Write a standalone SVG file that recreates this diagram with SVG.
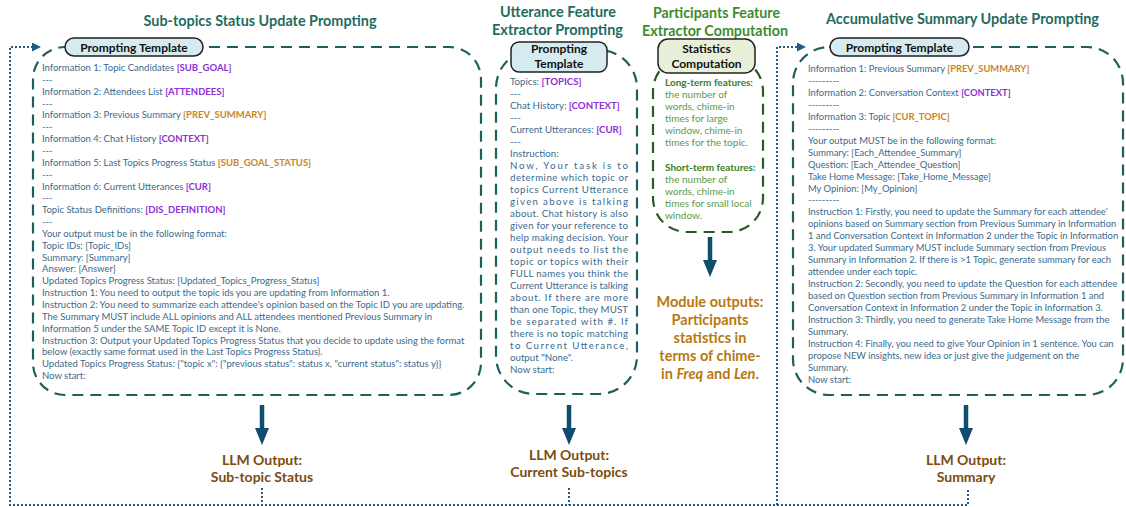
<svg xmlns="http://www.w3.org/2000/svg" width="1126" height="507" viewBox="0 0 1126 507">
<style>
text{font-family:Lato,"Liberation Sans",sans-serif}
.t{font-size:9.5px;fill:#3b6a8c}
.tr{font-size:9.4px;fill:#3b6a8c}
.tm{font-size:9.7px;fill:#3b6a8c}
.p{fill:#8e2fd8;font-weight:bold}
.o{fill:#c8861e;font-weight:bold}
.ttl{font-weight:bold;font-size:15px;fill:#1f6b5f;text-anchor:middle}
.gttl{font-weight:bold;font-size:15px;fill:#3d8c2c;text-anchor:middle}
.pill{fill:#d6ebf0;stroke:#222;stroke-width:1.5}
.gpill{fill:#e8f0da;stroke:#222;stroke-width:1.5}
.pt{font-weight:bold;font-size:12px;fill:#111;text-anchor:middle}
.pnl{fill:none;stroke:#1d5f5f;stroke-width:2.2;stroke-dasharray:11 7}
.gpnl{fill:none;stroke:#2b5a26;stroke-width:2.2;stroke-dasharray:11 7}
.dot{fill:none;stroke:#1f5d86;stroke-width:2;stroke-dasharray:2 2}
.arr{stroke:#0e4d6e;stroke-width:4.5;fill:none}
.out{font-weight:bold;font-size:14px;fill:#7b4c10;text-anchor:middle}
.mod{font-weight:bold;font-size:14.5px;fill:#b8780f;text-anchor:middle}
.gh{font-size:10px;font-weight:bold;fill:#37802b}
.gb{font-size:10px;fill:#5a9b46}
</style>
<defs>
<marker id="big" viewBox="0 0 17 14" refX="0" refY="7" markerWidth="17" markerHeight="14" markerUnits="userSpaceOnUse" orient="auto"><path d="M0,0 L17,7 L0,14 z" fill="#0e4d6e"/></marker>
<marker id="sm" viewBox="0 0 9 9" refX="0" refY="4.5" markerWidth="9" markerHeight="9" markerUnits="userSpaceOnUse" orient="auto"><path d="M0,0 L9,4.5 L0,9 z" fill="#1f5d86"/></marker>
</defs>
<rect width="1126" height="507" fill="#fff"/>

<!-- titles -->
<text class="ttl" x="260" y="26" textLength="233" lengthAdjust="spacingAndGlyphs">Sub-topics Status Update Prompting</text>
<text class="ttl" x="558" y="17" textLength="116" lengthAdjust="spacingAndGlyphs">Utterance Feature</text>
<text class="ttl" x="557.5" y="35" textLength="131" lengthAdjust="spacingAndGlyphs">Extractor Prompting</text>
<text class="gttl" x="716.5" y="18" textLength="127" lengthAdjust="spacingAndGlyphs">Participants Feature</text>
<text class="gttl" x="715" y="36" textLength="146" lengthAdjust="spacingAndGlyphs">Extractor Computation</text>
<text class="ttl" x="962.5" y="24" textLength="273" lengthAdjust="spacingAndGlyphs">Accumulative Summary Update Prompting</text>

<!-- connectors -->
<g id="connectors">
<path class="dot" d="M262,488 V505"/>
<path class="dot" d="M569,488 V505"/>
<path class="dot" d="M968,490 V505 H10 V47 H32" marker-end="url(#sm)"/>
<path class="dot" d="M777,505 V47 H797" marker-end="url(#sm)"/>
<line class="arr" x1="262" y1="405" x2="262" y2="428" marker-end="url(#big)"/>
<line class="arr" x1="569" y1="405" x2="569" y2="428" marker-end="url(#big)"/>
<line class="arr" x1="710" y1="237" x2="710" y2="260" marker-end="url(#big)"/>
<line class="arr" x1="966" y1="405" x2="966" y2="428" marker-end="url(#big)"/>
</g>

<!-- left panel -->
<g id="subtopic-prompt">
<rect class="pnl" x="33" y="47" width="448" height="348" rx="32"/>
<rect class="pill" x="65" y="38" width="138" height="18" rx="9"/>
<text class="pt" x="134" y="51.5" font-size="11.5">Prompting Template</text>
<text class="t" x="42" y="71">Information 1: Topic Candidates <tspan class="p">[SUB_GOAL]</tspan></text>
<text class="t" x="42" y="82.85">---</text>
<text class="t" x="42" y="94.7">Information 2: Attendees List <tspan class="p">[ATTENDEES]</tspan></text>
<text class="t" x="42" y="106.55">---</text>
<text class="t" x="42" y="118.4">Information 3: Previous Summary <tspan class="o">[PREV_SUMMARY]</tspan></text>
<text class="t" x="42" y="130.25">---</text>
<text class="t" x="42" y="142.1">Information 4: Chat History <tspan class="p">[CONTEXT]</tspan></text>
<text class="t" x="42" y="153.95">---</text>
<text class="t" x="42" y="165.8">Information 5: Last Topics Progress Status <tspan class="o">[SUB_GOAL_STATUS]</tspan></text>
<text class="t" x="42" y="177.65">---</text>
<text class="t" x="42" y="189.5">Information 6: Current Utterances <tspan class="p">[CUR]</tspan></text>
<text class="t" x="42" y="201.35">---</text>
<text class="t" x="42" y="213.2">Topic Status Definitions: <tspan class="p">[DIS_DEFINITION]</tspan></text>
<text class="t" x="42" y="225.05">---</text>
<text class="t" x="42" y="236.9">Your output must be in the following format:</text>
<text class="t" x="42" y="248.75">Topic IDs: [Topic_IDs]</text>
<text class="t" x="42" y="260.6">Summary: [Summary]</text>
<text class="t" x="42" y="272.45">Answer: [Answer]</text>
<text class="t" x="42" y="284.3">Updated Topics Progress Status: [Updated_Topics_Progress_Status]</text>
<text class="t" x="42" y="296.15">Instruction 1: You need to output the topic ids you are updating from Information 1.</text>
<text class="t" x="42" y="308">Instruction 2: You need to summarize each attendee's opinion based on the Topic ID you are updating.</text>
<text class="t" x="42" y="319.85">The Summary MUST include ALL opinions and ALL attendees mentioned Previous Summary in</text>
<text class="t" x="42" y="331.7">Information 5 under the SAME Topic ID except it is None.</text>
<text class="t" x="42" y="343.55">Instruction 3: Output your Updated Topics Progress Status that you decide to update using the format</text>
<text class="t" x="42" y="355.4">below (exactly same format used in the Last Topics Progress Status).</text>
<text class="t" x="42" y="367.25">Updated Topics Progress Status: {"topic x": {"previous status": status x, "current status": status y}}</text>
<text class="t" x="42" y="379.1">Now start:</text>
</g>

<!-- middle panel -->
<g id="utterance-prompt">
<rect class="pnl" x="496" y="50" width="141" height="344" rx="38"/>
<rect class="pill" x="511" y="42" width="96" height="30" rx="8"/>
<text class="pt" x="559" y="53">Prompting</text>
<text class="pt" x="559" y="68">Template</text>
<text class="tm" x="510" y="85">Topics: <tspan class="p">[TOPICS]</tspan></text>
<text class="tm" x="510" y="97">---</text>
<text class="tm" x="510" y="109">Chat History: <tspan class="p">[CONTEXT]</tspan></text>
<text class="tm" x="510" y="121">---</text>
<text class="tm" x="510" y="133">Current Utterances: <tspan class="p">[CUR]</tspan></text>
<text class="tm" x="510" y="145">---</text>
<text class="tm" x="510" y="157">Instruction:</text>
<text class="tm" x="510" y="169" textLength="118" lengthAdjust="spacing">Now, Your task is to</text>
<text class="tm" x="510" y="181" textLength="118" lengthAdjust="spacing">determine which topic or</text>
<text class="tm" x="510" y="193" textLength="118" lengthAdjust="spacing">topics Current Utterance</text>
<text class="tm" x="510" y="205" textLength="118" lengthAdjust="spacing">given above is talking</text>
<text class="tm" x="510" y="217" textLength="118" lengthAdjust="spacing">about. Chat history is also</text>
<text class="tm" x="510" y="229" textLength="118" lengthAdjust="spacing">given for your reference to</text>
<text class="tm" x="510" y="241" textLength="118" lengthAdjust="spacing">help making decision. Your</text>
<text class="tm" x="510" y="253" textLength="118" lengthAdjust="spacing">output needs to list the</text>
<text class="tm" x="510" y="265" textLength="118" lengthAdjust="spacing">topic or topics with their</text>
<text class="tm" x="510" y="277" textLength="118" lengthAdjust="spacing">FULL names you think the</text>
<text class="tm" x="510" y="289" textLength="118" lengthAdjust="spacing">Current Utterance is talking</text>
<text class="tm" x="510" y="301" textLength="118" lengthAdjust="spacing">about. If there are more</text>
<text class="tm" x="510" y="313" textLength="118" lengthAdjust="spacing">than one Topic, they MUST</text>
<text class="tm" x="510" y="325" textLength="118" lengthAdjust="spacing">be separated with #. If</text>
<text class="tm" x="510" y="337" textLength="118" lengthAdjust="spacing">there is no topic matching</text>
<text class="tm" x="510" y="349" textLength="118" lengthAdjust="spacing">to Current Utterance,</text>
<text class="tm" x="510" y="361">output "None".</text>
<text class="tm" x="510" y="373">Now start:</text>
</g>

<!-- participants -->
<g id="participants-computation">
<rect class="gpnl" x="653" y="57" width="110" height="175" rx="34"/>
<rect class="gpill" x="658" y="39" width="97" height="34" rx="10"/>
<text class="pt" x="706.5" y="53">Statistics</text>
<text class="pt" x="706.5" y="68">Computation</text>
<text class="gh" x="665" y="86">Long-term features:</text>
<text class="gb" x="665" y="98">the number of</text>
<text class="gb" x="665" y="110">words, chime-in</text>
<text class="gb" x="665" y="122">times for large</text>
<text class="gb" x="665" y="134">window, chime-in</text>
<text class="gb" x="665" y="146">times for the topic.</text>
<text class="gh" x="665" y="171">Short-term features:</text>
<text class="gb" x="665" y="183">the number of</text>
<text class="gb" x="665" y="195">words, chime-in</text>
<text class="gb" x="665" y="207">times for small local</text>
<text class="gb" x="665" y="219">window.</text>
</g>

<g id="module-outputs">
<text class="mod" x="710" y="307">Module outputs:</text>
<text class="mod" x="710" y="325">Participants</text>
<text class="mod" x="710" y="343">statistics in</text>
<text class="mod" x="710" y="361">terms of chime-</text>
<text class="mod" x="710" y="379">in <tspan font-style="italic">Freq</tspan> and <tspan font-style="italic">Len</tspan>.</text>
</g>

<!-- right panel -->
<g id="summary-prompt">
<rect class="pnl" x="793" y="47" width="330" height="348" rx="36"/>
<rect class="pill" x="830" y="38" width="139" height="18" rx="9"/>
<text class="pt" x="899.5" y="51.5" font-size="11.5">Prompting Template</text>
<text class="tr" x="808" y="72">Information 1: Previous Summary <tspan class="o">[PREV_SUMMARY]</tspan></text>
<text class="tr" x="808" y="83.95">---------</text>
<text class="tr" x="808" y="95.9">Information 2: Conversation Context <tspan class="p">[CONTEXT]</tspan></text>
<text class="tr" x="808" y="107.85">---------</text>
<text class="tr" x="808" y="119.8">Information 3: Topic <tspan class="o">[CUR_TOPIC]</tspan></text>
<text class="tr" x="808" y="131.75">---------</text>
<text class="tr" x="808" y="143.7">Your output MUST be in the following format:</text>
<text class="tr" x="808" y="155.65">Summary: [Each_Attendee_Summary]</text>
<text class="tr" x="808" y="167.6">Question: [Each_Attendee_Question]</text>
<text class="tr" x="808" y="179.55">Take Home Message: [Take_Home_Message]</text>
<text class="tr" x="808" y="191.5">My Opinion: [My_Opinion]</text>
<text class="tr" x="808" y="203.45">---------</text>
<text class="tr" x="808" y="215.4">Instruction 1: Firstly, you need to update the Summary for each attendee'</text>
<text class="tr" x="808" y="227.35">opinions based on Summary section from Previous Summary in Information</text>
<text class="tr" x="808" y="239.3">1 and Conversation Context in Information 2 under the Topic in Information</text>
<text class="tr" x="808" y="251.25">3. Your updated Summary MUST include Summary section from Previous</text>
<text class="tr" x="808" y="263.2">Summary in Information 2. If there is &gt;1 Topic, generate summary for each</text>
<text class="tr" x="808" y="275.15">attendee under each topic.</text>
<text class="tr" x="808" y="287.1">Instruction 2: Secondly, you need to update the Question for each attendee</text>
<text class="tr" x="808" y="299.05">based on Question section from Previous Summary in Information 1 and</text>
<text class="tr" x="808" y="311">Conversation Context in Information 2 under the Topic in Information 3.</text>
<text class="tr" x="808" y="322.95">Instruction 3: Thirdly, you need to generate Take Home Message from the</text>
<text class="tr" x="808" y="334.9">Summary.</text>
<text class="tr" x="808" y="346.85">Instruction 4: Finally, you need to give Your Opinion in 1 sentence. You can</text>
<text class="tr" x="808" y="358.8">propose NEW insights, new idea or just give the judgement on the</text>
<text class="tr" x="808" y="370.75">Summary.</text>
<text class="tr" x="808" y="382.7">Now start:</text>
</g>

<!-- outputs -->
<g id="out-subtopic">
<text class="out" x="262" y="465">LLM Output:</text>
<text class="out" x="262" y="482">Sub-topic Status</text>
</g>
<g id="out-current">
<text class="out" x="569" y="460">LLM Output:</text>
<text class="out" x="569" y="477">Current Sub-topics</text>
</g>
<g id="out-summary">
<text class="out" x="966" y="465">LLM Output:</text>
<text class="out" x="966" y="482">Summary</text>
</g>
</svg>
